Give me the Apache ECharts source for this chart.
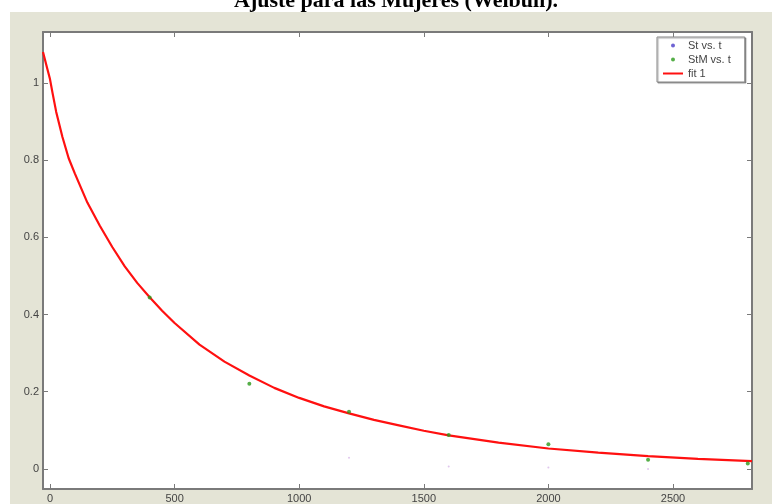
<!DOCTYPE html>
<html>
<head>
<meta charset="utf-8">
<script src="https://cdn.jsdelivr.net/npm/echarts@6/dist/echarts.min.js"></script>
<style>
  html, body { margin: 0; padding: 0; background: #fff; }
  #main { width: 772px; height: 504px; }
</style>
</head>
<body>
<div id="main"></div>
<script>
// datos
var fitT = [-28, -20, -10, 0, 10, 25, 50, 75, 100, 150, 200, 250, 300, 350, 400, 450, 500, 600, 700, 800, 900, 1000, 1100, 1200, 1300, 1400, 1500, 1600, 1800, 2000, 2200, 2400, 2600, 2817];
var fitS = [1.08, 1.06, 1.035, 1.01, 0.975, 0.925, 0.86, 0.805, 0.765, 0.69, 0.63, 0.575, 0.525, 0.482, 0.445, 0.41, 0.378, 0.322, 0.278, 0.242, 0.210, 0.184, 0.162, 0.144, 0.127, 0.113, 0.099, 0.087, 0.068, 0.053, 0.042, 0.033, 0.026, 0.02];

var stmT = [400, 800, 1200, 1600, 2000, 2400, 2800];
var stmS = [0.444, 0.221, 0.148, 0.088, 0.064, 0.024, 0.014];

var stT = [1200, 1600, 2000, 2400];
var stS = [0.029, 0.006, 0.004, 0.0];

var xTicks = [0, 500, 1000, 1500, 2000, 2500];
var yTicks = [0, 0.2, 0.4, 0.6, 0.8, 1];

function pairs(xs, ys) {
    return xs.map(function (x, i) { return [x, ys[i]]; });
}

var myChart = echarts.init(document.getElementById('main'));

var axisCol = '#7a7a7a';
var labelStyle = { color: '#444', fontFamily: 'Liberation Sans', fontSize: 11 };

var option = {
    animation: false,
    backgroundColor: '#fff',
    graphic: [
        {
            type: 'rect', z: -10, silent: true,
            shape: { x: 10, y: 12, width: 762, height: 492 },
            style: { fill: '#e4e4d6' }
        },
        {
            type: 'text', z: 10,
            left: 234, top: -10,
            style: {
                text: 'Ajuste para las Mujeres (Weibull).',
                font: 'bold 22px "Liberation Serif"',
                fill: '#000'
            }
        }
    ],
    grid: { left: 43, top: 32, right: 20, bottom: 15, show: true, backgroundColor: '#fff', borderWidth: 0 },
    legend: {
        orient: 'vertical',
        left: 657, top: 37,
        padding: [3, 14, 3, 6],
        itemGap: 3,
        itemWidth: 20, itemHeight: 4,
        backgroundColor: '#fff',
        borderColor: '#888', borderWidth: 1,
        shadowColor: 'rgba(0,0,0,0.35)', shadowOffsetX: 1, shadowOffsetY: 1, shadowBlur: 1,
        textStyle: { color: '#444', fontFamily: 'Liberation Sans', fontSize: 11 },
        data: [
            { name: 'St vs. t', icon: 'circle', itemStyle: { color: '#4a3cc8' } },
            { name: 'StM vs. t', icon: 'circle', itemStyle: { color: '#2a9a1a' } },
            { name: 'fit 1', icon: 'path://M0,0 H20 V2 H0 Z', itemStyle: { color: '#ff1010' } }
        ]
    },
    xAxis: [
        {
            type: 'value', min: -28, max: 2817, position: 'bottom',
            axisLine: { onZero: false, lineStyle: { color: axisCol, width: 2 } },
            axisTick: { inside: true, length: 5, customValues: xTicks, lineStyle: { color: axisCol } },
            axisLabel: { margin: 4, customValues: xTicks, formatter: function (v) { return String(v); }, color: labelStyle.color, fontFamily: labelStyle.fontFamily, fontSize: labelStyle.fontSize },
            splitLine: { show: false }
        },
        {
            type: 'value', min: -28, max: 2817, position: 'top',
            axisLine: { onZero: false, lineStyle: { color: axisCol, width: 2 } },
            axisTick: { inside: true, length: 5, customValues: xTicks, lineStyle: { color: axisCol } },
            axisLabel: { show: false },
            splitLine: { show: false }
        }
    ],
    yAxis: [
        {
            type: 'value', min: -0.052, max: 1.132, position: 'left',
            axisLine: { onZero: false, show: true, lineStyle: { color: axisCol, width: 2 } },
            axisTick: { show: true, inside: true, length: 5, customValues: yTicks, lineStyle: { color: axisCol } },
            axisLabel: { margin: 4, customValues: yTicks, formatter: function (v) { return String(Math.round(v * 10) / 10); }, color: labelStyle.color, fontFamily: labelStyle.fontFamily, fontSize: labelStyle.fontSize },
            splitLine: { show: false }
        },
        {
            type: 'value', min: -0.052, max: 1.132, position: 'right',
            axisLine: { onZero: false, show: true, lineStyle: { color: axisCol, width: 2 } },
            axisTick: { show: true, inside: true, length: 5, customValues: yTicks, lineStyle: { color: axisCol } },
            axisLabel: { show: false },
            splitLine: { show: false }
        }
    ],
    series: [
        {
            name: 'St vs. t', type: 'scatter',
            symbolSize: 2,
            itemStyle: { color: '#d8b8e8' },
            data: pairs(stT, stS)
        },
        {
            name: 'StM vs. t', type: 'scatter',
            symbolSize: 4,
            itemStyle: { color: '#2a9a1a' },
            data: pairs(stmT, stmS),
            z: 3
        },
        {
            name: 'fit 1', type: 'line',
            symbol: 'none',
            smooth: false,
            lineStyle: { color: '#ff1010', width: 2.2 },
            itemStyle: { color: '#ff1010' },
            data: pairs(fitT, fitS),
            z: 2
        }
    ]
};

myChart.setOption(option);
</script>
</body>
</html>
